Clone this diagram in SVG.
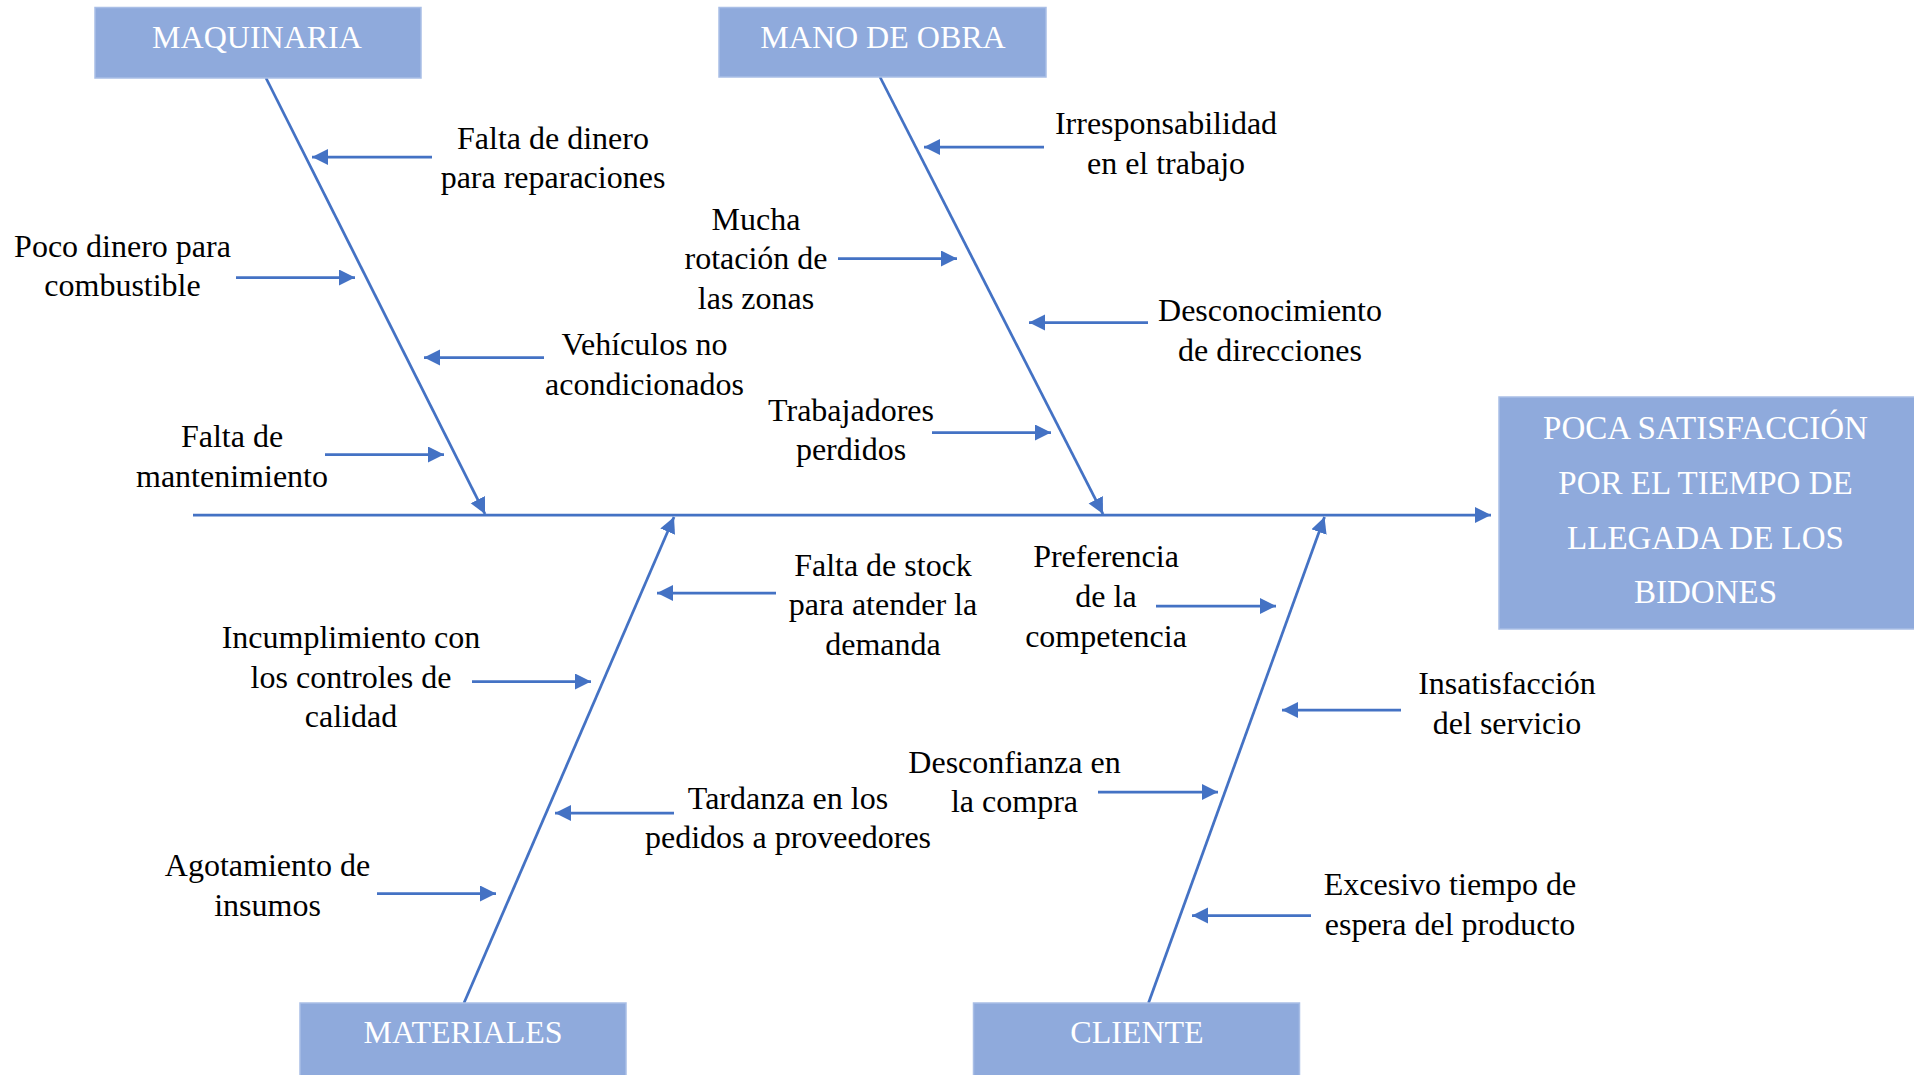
<svg xmlns="http://www.w3.org/2000/svg" width="1914" height="1075" viewBox="0 0 1914 1075">
<style>
.box{fill:#8FAADC;stroke:#A9BEE6;stroke-width:1.5}
.bt{font-family:"Liberation Serif","Times New Roman",serif;font-size:32px;fill:#FFFFFF;text-anchor:middle}
.et{font-family:"Liberation Serif","Times New Roman",serif;font-size:33px;fill:#FFFFFF;text-anchor:middle}
.t{font-family:"Liberation Serif","Times New Roman",serif;font-size:32px;fill:#000000;text-anchor:middle}
.ln{stroke:#4472C4;stroke-width:2.75;fill:none;marker-end:url(#ah)}
</style>
<defs>
<marker id="ah" markerUnits="userSpaceOnUse" markerWidth="17" markerHeight="17" refX="16" refY="8" orient="auto">
<path d="M0,0 L16,8 L0,16 z" fill="#4472C4"/>
</marker>
</defs>
<g id="connectors">
<line class="ln" x1="193" y1="515" x2="1491" y2="515"/>
<line class="ln" x1="266" y1="78" x2="485" y2="514"/>
<line class="ln" x1="880" y1="77" x2="1103" y2="514"/>
<line class="ln" x1="464" y1="1003" x2="674" y2="517"/>
<line class="ln" x1="1148.5" y1="1003" x2="1324.5" y2="517"/>
<line class="ln" x1="432" y1="157" x2="312" y2="157"/>
<line class="ln" x1="236" y1="277.5" x2="355" y2="277.5"/>
<line class="ln" x1="544" y1="357.5" x2="424" y2="357.5"/>
<line class="ln" x1="325" y1="454.5" x2="444" y2="454.5"/>
<line class="ln" x1="1044" y1="147" x2="924" y2="147"/>
<line class="ln" x1="838" y1="258.5" x2="957" y2="258.5"/>
<line class="ln" x1="1148" y1="322.5" x2="1029" y2="322.5"/>
<line class="ln" x1="932" y1="432.5" x2="1051" y2="432.5"/>
<line class="ln" x1="776" y1="593" x2="657" y2="593"/>
<line class="ln" x1="472" y1="681.5" x2="591" y2="681.5"/>
<line class="ln" x1="674" y1="813" x2="555" y2="813"/>
<line class="ln" x1="377" y1="893.5" x2="496" y2="893.5"/>
<line class="ln" x1="1156" y1="606" x2="1276" y2="606"/>
<line class="ln" x1="1401" y1="710" x2="1282" y2="710"/>
<line class="ln" x1="1098" y1="792" x2="1218" y2="792"/>
<line class="ln" x1="1311" y1="915.5" x2="1192" y2="915.5"/>
</g>
<g id="maquinaria">
<rect class="box" x="95" y="7.5" width="326" height="70.5"/>
<text class="bt" x="257" y="48">MAQUINARIA</text>
</g>
<g id="mano-de-obra">
<rect class="box" x="719" y="7.5" width="327" height="69.5"/>
<text class="bt" x="883" y="48">MANO DE OBRA</text>
</g>
<g id="materiales">
<rect class="box" x="300" y="1003" width="326" height="80"/>
<text class="bt" x="463" y="1043">MATERIALES</text>
</g>
<g id="cliente">
<rect class="box" x="973.5" y="1003" width="326" height="80"/>
<text class="bt" x="1137" y="1043">CLIENTE</text>
</g>
<g id="efecto">
<rect class="box" x="1499" y="397" width="420" height="232"/>
<text class="et" x="1705.5" y="438.5">POCA SATISFACCIÓN</text>
<text class="et" x="1705.5" y="493.5">POR EL TIEMPO DE</text>
<text class="et" x="1705.5" y="548.5">LLEGADA DE LOS</text>
<text class="et" x="1705.5" y="602.5">BIDONES</text>
</g>
<g id="c-falta-dinero">
<text class="t" x="553" y="149">Falta de dinero</text>
<text class="t" x="553" y="188">para reparaciones</text>
</g>
<g id="c-poco-dinero">
<text class="t" x="122.5" y="257">Poco dinero para</text>
<text class="t" x="122.5" y="296">combustible</text>
</g>
<g id="c-vehiculos">
<text class="t" x="644.5" y="355">Vehículos no</text>
<text class="t" x="644.5" y="394.5">acondicionados</text>
</g>
<g id="c-mantenimiento">
<text class="t" x="232" y="447">Falta de</text>
<text class="t" x="232" y="487">mantenimiento</text>
</g>
<g id="c-irresponsabilidad">
<text class="t" x="1166" y="134">Irresponsabilidad</text>
<text class="t" x="1166" y="173.5">en el trabajo</text>
</g>
<g id="c-rotacion">
<text class="t" x="756" y="230">Mucha</text>
<text class="t" x="756" y="269">rotación de</text>
<text class="t" x="756" y="308.5">las zonas</text>
</g>
<g id="c-desconocimiento">
<text class="t" x="1270" y="321">Desconocimiento</text>
<text class="t" x="1270" y="360.5">de direcciones</text>
</g>
<g id="c-trabajadores">
<text class="t" x="851" y="421">Trabajadores</text>
<text class="t" x="851" y="460">perdidos</text>
</g>
<g id="c-incumplimiento">
<text class="t" x="351" y="648">Incumplimiento con</text>
<text class="t" x="351" y="688">los controles de</text>
<text class="t" x="351" y="727">calidad</text>
</g>
<g id="c-agotamiento">
<text class="t" x="267.5" y="876">Agotamiento de</text>
<text class="t" x="267.5" y="915.5">insumos</text>
</g>
<g id="c-stock">
<text class="t" x="883" y="576">Falta de stock</text>
<text class="t" x="883" y="615">para atender la</text>
<text class="t" x="883" y="654.5">demanda</text>
</g>
<g id="c-tardanza">
<text class="t" x="788" y="809">Tardanza en los</text>
<text class="t" x="788" y="848">pedidos a proveedores</text>
</g>
<g id="c-preferencia">
<text class="t" x="1106" y="567">Preferencia</text>
<text class="t" x="1106" y="606.5">de la</text>
<text class="t" x="1106" y="646.5">competencia</text>
</g>
<g id="c-insatisfaccion">
<text class="t" x="1507" y="694">Insatisfacción</text>
<text class="t" x="1507" y="733.5">del servicio</text>
</g>
<g id="c-desconfianza">
<text class="t" x="1014.5" y="772.5">Desconfianza en</text>
<text class="t" x="1014.5" y="811.5">la compra</text>
</g>
<g id="c-excesivo">
<text class="t" x="1450" y="895">Excesivo tiempo de</text>
<text class="t" x="1450" y="934.5">espera del producto</text>
</g>
</svg>
